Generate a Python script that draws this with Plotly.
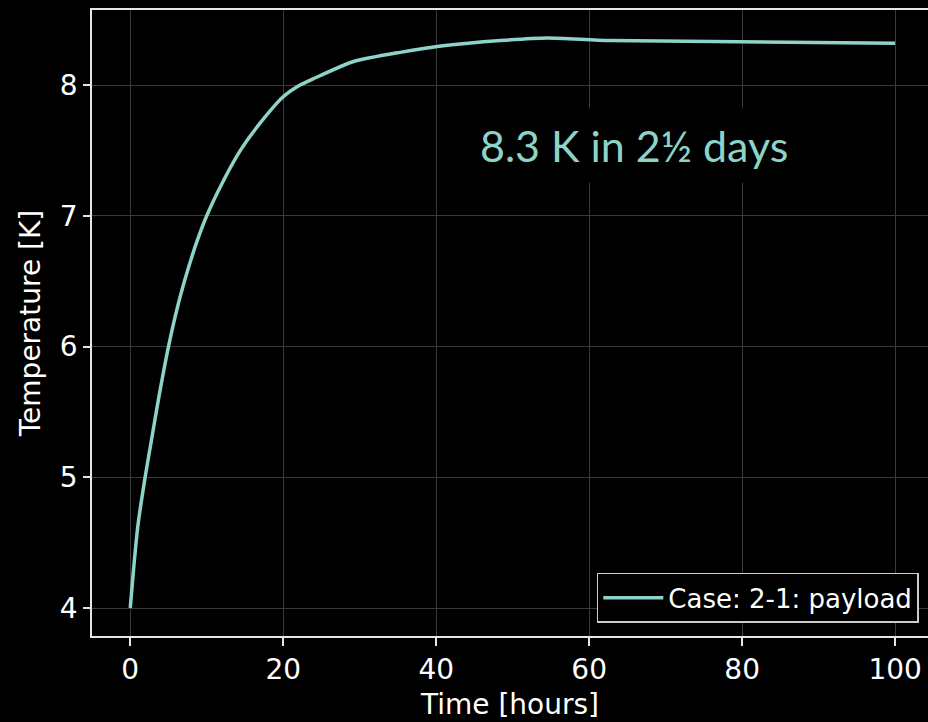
import plotly.graph_objects as go

# Data
time_hours = [0, 0.44, 1.0, 2.0, 2.85, 3.7, 5.0, 6.3, 7.6, 8.7, 10, 12.2, 14.4, 17, 20, 22.2, 24,
              29.2, 35.3, 40.9, 48.4, 54.5, 62.7, 100]
temperature_k = [4.0, 4.30, 4.63, 5.02, 5.31, 5.6, 6.0, 6.33, 6.6, 6.8, 7.0, 7.27, 7.50, 7.71, 7.91,
                 8.0, 8.05, 8.18, 8.25, 8.30, 8.34, 8.36, 8.34, 8.32]
series_name = "Case: 2-1: payload"
x_ticks = [0, 20, 40, 60, 80, 100]
y_ticks = [4, 5, 6, 7, 8]
annotation_text = "8.3 K in 2½ days"

teal = "#8dd3c7"
axis_color = "#e6e6e6"
grid_color = "#3a3a3a"
font_main = "DejaVu Sans"

fig = go.Figure()
fig.add_trace(go.Scatter(
    x=time_hours, y=temperature_k, mode="lines", name=series_name,
    line=dict(color=teal, width=3.5, shape="spline", smoothing=0.6),
))

fig.add_annotation(
    x=65.8, y=7.54, xref="x", yref="y", text=annotation_text, showarrow=False,
    font=dict(family="Lato", size=43, color=teal),
    bgcolor="black", borderpad=11,
)

fig.update_layout(
    width=928, height=722,
    paper_bgcolor="black", plot_bgcolor="black",
    margin=dict(l=92, r=0, t=10, b=86, pad=0),
    font=dict(family=font_main, size=28, color="white"),
    showlegend=True,
    legend=dict(
        x=0.989, y=0.021, xanchor="right", yanchor="bottom",
        bgcolor="black", bordercolor="#cccccc", borderwidth=1.5,
        font=dict(family=font_main, size=26, color="white"),
        itemwidth=60,
    ),
)

fig.update_xaxes(
    range=[-5, 104.3], tickvals=x_ticks, ticktext=[str(v) for v in x_ticks],
    showline=True, linecolor=axis_color, linewidth=1.5, mirror=True,
    ticks="outside", ticklen=8, tickwidth=1.5, tickcolor=axis_color,
    showgrid=True, gridcolor=grid_color, gridwidth=1, zeroline=False,
    tickfont=dict(size=28, color="white"),
    title=dict(text="Time [hours]", font=dict(size=28, color="white"), standoff=9),
)
fig.update_yaxes(
    range=[3.786, 8.574], tickvals=y_ticks, ticktext=[str(v) for v in y_ticks],
    showline=True, linecolor=axis_color, linewidth=1.5, mirror=False,
    ticks="outside", ticklen=7, tickwidth=1.5, tickcolor=axis_color,
    showgrid=True, gridcolor=grid_color, gridwidth=1, zeroline=False,
    tickfont=dict(size=28, color="white"),
    title=dict(text="Temperature [K]", font=dict(size=28, color="white"), standoff=11),
)

fig.write_html(
    "out.html",
    config={"displayModeBar": False},
    post_script="document.body.style.margin='0';document.body.style.overflow='hidden';",
)
